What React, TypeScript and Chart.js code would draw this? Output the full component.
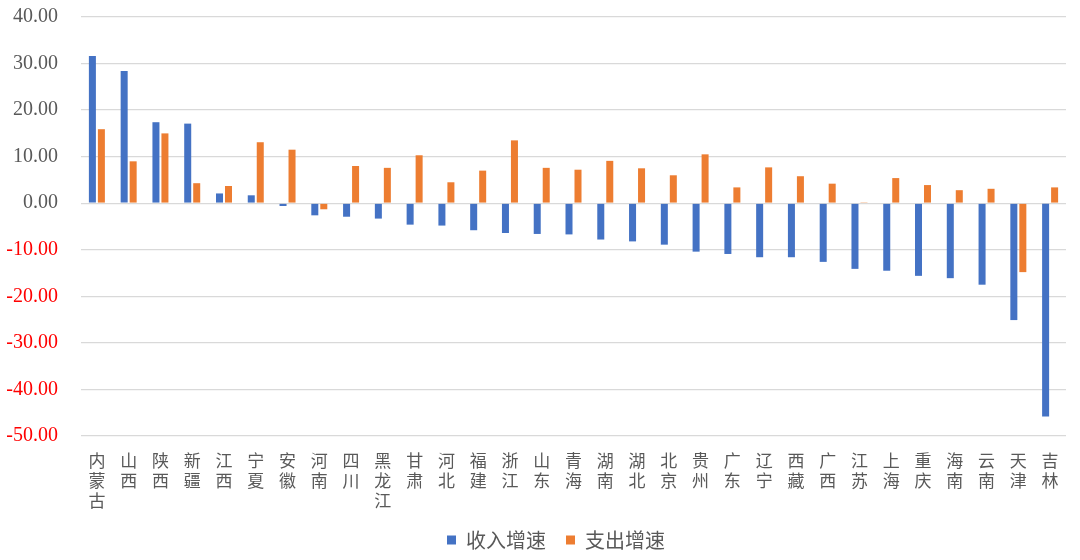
import React, { useEffect, useRef } from "react";
import { Chart, registerables } from "chart.js";

Chart.register(...registerables);

const categories = ["内蒙古", "山西", "陕西", "新疆", "江西", "宁夏", "安徽", "河南", "四川", "黑龙江", "甘肃", "河北", "福建", "浙江", "山东", "青海", "湖南", "湖北", "北京", "贵州", "广东", "辽宁", "西藏", "广西", "江苏", "上海", "重庆", "海南", "云南", "天津", "吉林"];
const incomeGrowth = [31.6, 28.4, 17.4, 17.1, 2.1, 1.7, -0.6, -2.6, -2.9, -3.3, -4.6, -4.8, -5.8, -6.4, -6.6, -6.7, -7.8, -8.2, -8.9, -10.4, -10.9, -11.6, -11.6, -12.6, -14.1, -14.5, -15.6, -16.1, -17.5, -25.1, -45.8];
const expenseGrowth = [15.9, 9.0, 15.0, 4.3, 3.7, 13.1, 11.5, -1.3, 8.0, 7.6, 10.3, 4.5, 7.0, 13.5, 7.6, 7.2, 9.1, 7.5, 6.0, 10.5, 3.4, 7.7, 5.8, 4.2, 0.2, 5.4, 3.9, 2.8, 3.1, -14.8, 3.4];
const seriesNames = ["收入增速", "支出增速"];
const yMin = -50;
const yMax = 40;
const yStep = 10;

const legendShift = {
  id: "legendShift",
  afterLayout(chart: any) {
    const l = chart.legend;
    if (l) {
      l.left += 23;
      l.right += 23;
    }
  },
};

export default function App() {
  const ref = useRef<HTMLCanvasElement | null>(null);
  useEffect(() => {
    document.body.style.margin = "0";
    if (!ref.current) return;
    const chart = new Chart(ref.current, {
      type: "bar",
      data: {
        labels: categories.map((c) => c.split("")),
        datasets: [
          {
            label: seriesNames[0],
            data: incomeGrowth,
            backgroundColor: "#4472C4",
            categoryPercentage: 0.566,
            barPercentage: 0.78,
          },
          {
            label: seriesNames[1],
            data: expenseGrowth,
            backgroundColor: "#ED7D31",
            categoryPercentage: 0.566,
            barPercentage: 0.78,
          },
        ],
      },
      options: {
        responsive: false,
        animation: false,
        devicePixelRatio: 1,
        layout: { padding: { left: 0, right: 14, top: 17, bottom: 0 } },
        plugins: {
          tooltip: { enabled: false },
          legend: {
            position: "bottom",
            labels: {
              boxWidth: 9,
              boxHeight: 9,
              padding: 20,
              color: "#595959",
              font: { family: "'Noto Sans CJK SC'", size: 20 },
            },
          },
        },
        scales: {
          x: {
            grid: { display: false, drawTicks: true, tickLength: 14 },
            border: { display: false },
            ticks: {
              color: "#595959",
              padding: 0,
              maxRotation: 0,
              autoSkip: false,
              font: { family: "'Noto Sans CJK SC'", size: 17, lineHeight: 1.2 },
            },
            afterFit: (scale: any) => {
              scale.height = 74;
            },
          },
          y: {
            min: yMin,
            max: yMax,
            border: { display: false },
            grid: { color: "#d9d9d9", lineWidth: 1.3, drawTicks: true, tickLength: 23, tickColor: "rgba(0,0,0,0)" },
            ticks: {
              stepSize: yStep,
              padding: 0,
              color: (ctx: any) => (ctx.tick && ctx.tick.value < 0 ? "#FF0000" : "#595959"),
              font: { family: "'Liberation Serif', 'Times New Roman', serif", size: 20 },
              callback: (v: any) => Number(v).toFixed(2),
            },
            afterFit: (scale: any) => {
              scale.width = 81;
            },
          },
        },
      },
      plugins: [legendShift],
    });
    return () => chart.destroy();
  }, []);
  return (
    <div style={{ width: 1080, height: 560, background: "#fff" }}>
      <canvas ref={ref} width={1080} height={560} />
    </div>
  );
}
